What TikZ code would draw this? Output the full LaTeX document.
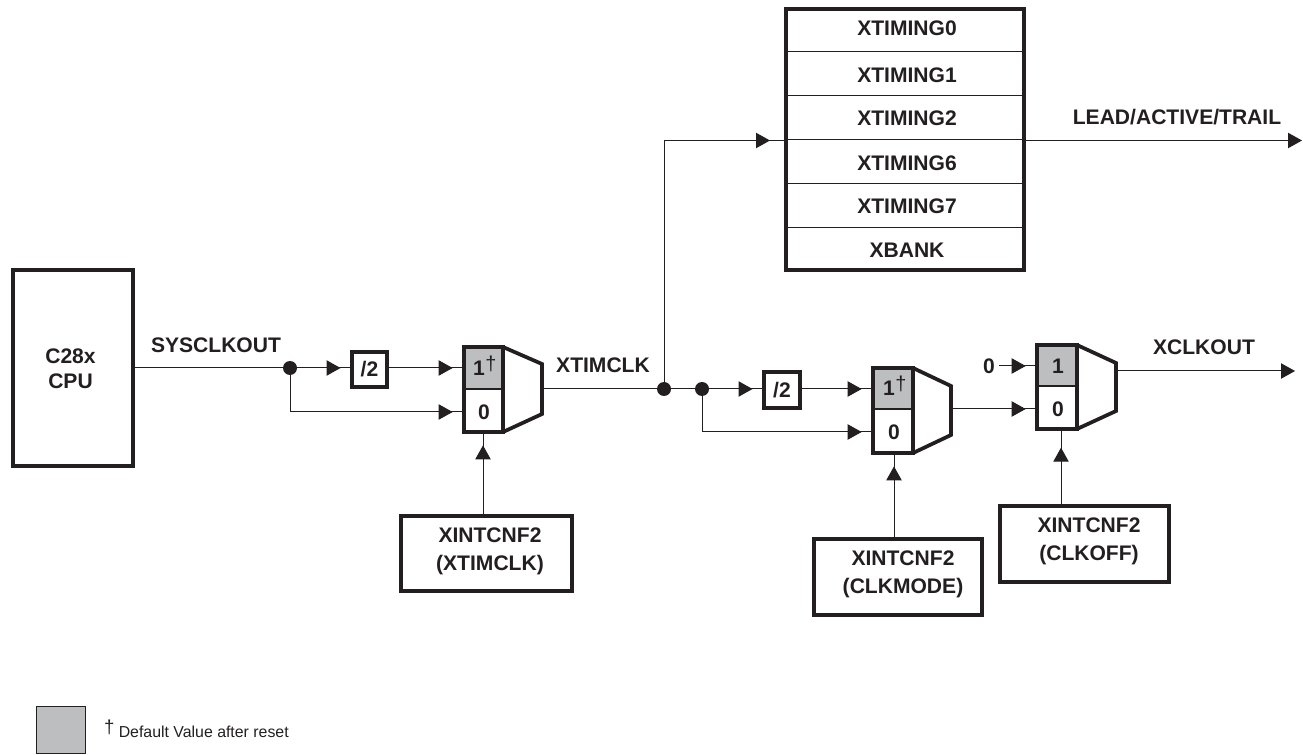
\documentclass[tikz,border=0pt]{standalone}
\usepackage{fontspec}
\setmainfont{Liberation Sans}
\usetikzlibrary{arrows.meta,calc}
\definecolor{lgray}{RGB}{188,190,192}
\definecolor{ink}{RGB}{35,31,32}
\tikzset{
 x=0.75pt,y=-0.75pt,
 every node/.style={text=ink,font=\bfseries\fontsize{15.8}{21}\selectfont,align=center,inner sep=0pt,outer sep=0pt},
 wire/.style={draw=ink,line width=0.75pt},
 arr/.style={wire,-{Triangle[width=11.5pt,length=10.5pt]}, shorten >=#1},
 arr/.default=8.5pt,
 dotn/.style={circle,fill=ink,minimum size=10.5pt},
 dag/.style={font=\fontsize{15}{15}\selectfont},
}
\newcommand{\boxat}[6]{% name,x1,y1,x2,y2,text
 \node[draw=ink,line width=2.8pt,fill=white,minimum width=(#4-#2)*0.75pt-2.8pt,minimum height=(#5-#3)*0.75pt-2.8pt] (#1) at ({(#2+#4)/2},{(#3+#5)/2}) {#6};}
\newcommand{\muxat}[9]{% name x1 y1 xm ymid y2 xr ytop ybot
 \fill[lgray] (#2,#3) rectangle (#4,#5);
 \draw[ink,line width=2.8pt,line join=miter] (#4,#3) -- (#7,#8) -- (#7,#9) -- (#4,#6);
 \draw[ink,line width=2.8pt] (#2,#3) rectangle (#4,#6);
 \draw[ink,line width=0.9pt] (#2,#5) -- (#4,#5);
}
\begin{document}
\begin{tikzpicture}
\useasboundingbox (0,0) rectangle (1303,755);
% CPU
\boxat{cpu}{11}{268}{135}{468}{}
\node[font=\bfseries\fontsize{15.8}{18.7}\selectfont] (cput) at (70.5,368.5) {C28x\\CPU};
% table
\boxat{tbl}{784}{7}{1026}{272}{}
\foreach \yy in {52,96,140,184,228} \draw[ink,line width=0.75pt] (784,\yy) -- (1026,\yy);
\node (t0) at (907,28.5) {XTIMING0};
\node (t1) at (907,75) {XTIMING1};
\node (t2) at (907,118) {XTIMING2};
\node (t6) at (907,163) {XTIMING6};
\node (t7) at (907,206) {XTIMING7};
\node (tb) at (907,250.5) {XBANK};
\coordinate (tbl-in) at (784,140.5);
\coordinate (tbl-out) at (1026,140.5);
\coordinate (end1) at (1302,140.5);
% muxes
\muxat{m1}{464}{347}{503}{389}{432}{542}{364}{414}
\muxat{m2}{873}{368}{913}{409}{453}{951}{386}{435}
\muxat{m3}{1037}{345}{1077}{386}{429}{1116}{363}{411}
\coordinate (m1-out) at (542,389); \coordinate (m1-in1) at (464,368); \coordinate (m1-in0) at (464,412); \coordinate (m1-sel) at (483,432);
\coordinate (m2-out) at (951,409); \coordinate (m2-in1) at (873,389); \coordinate (m2-in0) at (873,432); \coordinate (m2-sel) at (894,453);
\coordinate (m3-out) at (1116,371); \coordinate (m3-in1) at (1037,366); \coordinate (m3-in0) at (1037,409); \coordinate (m3-sel) at (1061,429);
\node (m1a) at (479,368) {1};
\node[dag] (m1d) at (491,364) {†};
\node (m1b) at (484,412) {0};
\node (m2a) at (889,388) {1};
\node[dag] (m2d) at (901,384) {†};
\node (m2b) at (894,432) {0};
\node (m3a) at (1058,366) {1};
\node (m3b) at (1058,409) {0};
% /2
\boxat{d1}{350}{350}{389}{389}{/2}
\boxat{d2}{762}{370}{802}{410}{/2}
% control
\boxat{c1}{399}{514}{574}{593}{}
\boxat{c2}{812}{537}{984}{617}{}
\boxat{c3}{998}{504}{1171}{584}{}
\node (c1t) at (490,551) {XINTCNF2\\(XTIMCLK)};
\node (c2t) at (903,574.5) {XINTCNF2\\(CLKMODE)};
\node (c3t) at (1089,541) {XINTCNF2\\(CLKOFF)};
% dots
\node[dotn] (j1) at (290,368) {};
\node[dotn] (j2) at (664,389) {};
\node[dotn] (j3) at (702,389) {};
% wires
\draw[wire] (cpu.east |- j1) -- (j1);
\draw[wire] (j1) -- (d1.west |- j1);
\draw[arr] (j1) -- (d1.west |- j1);
\draw[wire] (d1.east |- m1-in1) -- (m1-in1);
\draw[arr] (d1.east |- m1-in1) -- (m1-in1);
\draw[wire] (j1) |- (m1-in0);
\draw[arr] (j1) |- (m1-in0);
\draw[wire] (m1-out) -- (j2);
\draw[wire] (j2) -- (j3);
\draw[wire] (j2) |- (tbl-in);
\draw[arr=10.5pt] (j2) |- (tbl-in);
\draw[arr=0pt] (tbl-out) -- (end1);
\draw[wire] (j3) -- (d2.west |- j3);
\draw[arr] (j3) -- (d2.west |- j3);
\draw[wire] (d2.east |- m2-in1) -- (m2-in1);
\draw[arr] (d2.east |- m2-in1) -- (m2-in1);
\draw[wire] (j3) |- (m2-in0);
\draw[arr] (j3) |- (m2-in0);
\draw[wire] (m2-out) -- (m3-in0);
\draw[arr] (m2-out) -- (m3-in0);
\coordinate (end2) at (1295,371);
\draw[arr=0pt] (m3-out) -- (end2);
\node (zero) at (989,366) {0};
\coordinate (zs) at (999,366);
\draw[wire] (zs) -- (m3-in1);
\draw[arr] (zs) -- (m3-in1);
\draw[wire] (c1.north -| m1-sel) -- (m1-sel);
\draw[arr=10pt] (c1.north -| m1-sel) -- (m1-sel);
\draw[wire] (c2.north -| m2-sel) -- (m2-sel);
\draw[arr=10pt] (c2.north -| m2-sel) -- (m2-sel);
\draw[wire] (c3.north -| m3-sel) -- (m3-sel);
\draw[arr=14pt] (c3.north -| m3-sel) -- (m3-sel);
% labels
\node (l1) at (216,345) {SYSCLKOUT};
\node (l2) at (603,365) {XTIMCLK};
\node (l3) at (1177,117) {LEAD/ACTIVE/TRAIL};
\node (l4) at (1204,347) {XCLKOUT};
% legend
\node[draw=ink,line width=0.6pt,fill=lgray,minimum width=49*0.75pt,minimum height=47*0.75pt] (leg) at (60.5,729.5) {};
\node[anchor=west,font=\fontsize{11.9}{14}\selectfont] (legt) at (104,729) {\raisebox{3pt}{\fontsize{14}{14}\selectfont †} Default Value after reset};
\end{tikzpicture}
\end{document}
